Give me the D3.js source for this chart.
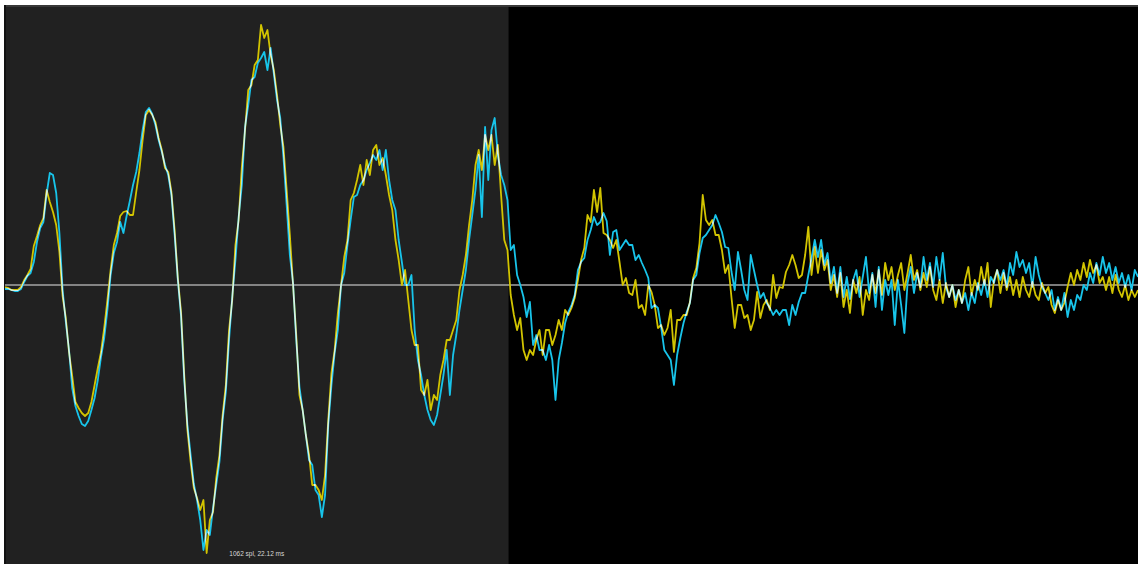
<!DOCTYPE html>
<html><head><meta charset="utf-8">
<script src="https://cdn.jsdelivr.net/npm/d3@7"></script>
<style>html,body{margin:0;padding:0;background:#fff;overflow:hidden}</style>
</head><body><svg id="chart" width="1144" height="565"></svg>
<script>
const sampleRate = 48000;
const totalSamples = 1062;
const sampleStep = 3;
const selectionEnd = 472;
const infoLabel = "1062 spl, 22.12 ms";

const cyanValues = [
-4,-4,-5,-6,-6,-4,3,9,12,23,
43,57,63,91,112,110,92,52,-5,-37,
-65,-103,-121,-131,-139,-141,-136,-125,-113,-95,
-72,-53,-25,10,32,43,63,52,69,84,
100,113,132,155,173,177,171,160,145,133,
120,110,90,50,5,-31,-95,-140,-170,-199,
-215,-235,-265,-245,-250,-223,-200,-177,-135,-107,
-55,-12,25,68,100,158,180,205,208,222,
227,233,215,237,211,185,167,128,80,30,
2,-55,-102,-125,-150,-175,-180,-205,-210,-232,
-210,-140,-100,-68,-45,0,12,40,65,88,
90,100,105,115,122,130,125,135,115,135,
105,85,75,45,23,0,0,10,-45,-75,
-90,-110,-125,-135,-140,-130,-110,-90,-65,-110,
-70,-50,-25,-5,15,45,70,95,130,68,
158,105,155,167,130,110,100,85,35,40,
10,0,-12,-32,-17,-60,-50,-65,-65,-75,
-60,-75,-115,-75,-58,-38,-27,-20,-10,15,
23,27,45,55,68,60,63,72,64,30,
53,55,35,40,45,40,40,25,30,22,
15,7,-23,-20,-23,-42,-65,-70,-75,-100,
-70,-53,-38,-27,-18,5,10,32,47,50,
55,60,70,62,53,38,37,13,-5,33,
15,-5,-15,30,15,0,-13,-8,-18,-23,
-30,-25,-30,-25,-25,-40,-20,-30,-17,-8,
-8,10,27,45,28,45,20,32,2,18,
-8,18,-12,8,-14,5,15,-12,8,28,
-8,12,-22,18,-25,5,-10,5,-40,5,
-20,-48,2,18,-8,12,-2,28,5,22,
-2,28,5,32,-2,-12,0,-15,-5,-18,
-8,-25,-8,-18,2,-10,5,-12,8,2,
15,5,15,-2,22,10,33,18,25,12,
22,-2,28,10,-2,-8,-15,-5,-25,-12,
-25,-8,-32,-15,-25,-10,-15,0,-5,12,
2,22,10,28,12,22,5,18,2,12,
-2,10,-5,15,8
];

const yellowValues = [
-2,-3,-5,-5,-5,-2,5,10,16,39,
49,60,67,95,83,73,60,33,-11,-33,
-67,-91,-117,-123,-128,-131,-128,-117,-100,-83,
-67,-43,-15,15,40,52,69,73,74,70,
70,93,115,145,170,175,170,163,147,135,
117,113,93,55,7,-27,-90,-145,-177,-203,
-213,-225,-215,-268,-235,-227,-193,-170,-130,-100,
-45,-15,40,65,118,155,195,200,220,225,
260,247,255,230,215,190,160,138,95,50,
0,-50,-110,-125,-150,-170,-200,-200,-205,-215,
-190,-135,-88,-65,-28,0,28,45,85,92,
105,120,100,125,110,135,140,120,127,110,
90,75,45,25,0,15,-15,-45,-60,-60,
-105,-110,-95,-125,-110,-115,-90,-75,-55,-55,
-45,-35,-5,10,30,60,85,120,135,115,
150,135,150,120,140,90,45,35,-10,-30,
-45,-33,-65,-75,-65,-70,-55,-45,-70,-45,
-45,-60,-50,-35,-45,-25,-30,-23,-13,5,
25,37,70,63,95,73,97,52,50,45,
37,45,23,0,7,-8,-10,5,-23,-20,
-30,0,-7,-20,-43,-40,-50,-43,-25,-67,
-35,-35,-30,-30,-17,7,17,42,90,65,
60,65,50,50,35,12,20,-13,-43,-20,
-20,-33,-30,-45,-35,-7,-33,-20,-15,-25,
10,-13,-2,-3,13,20,30,20,7,10,
30,58,10,38,12,35,15,25,-5,10,
-12,12,-22,-5,-28,5,-8,8,-30,-5,
-15,10,-8,15,-10,22,5,18,-5,10,
22,-5,12,30,5,15,-5,12,-2,18,
-5,-15,5,-18,2,-12,0,-22,-5,-18,
5,18,-10,5,-5,18,0,22,-22,5,
15,-8,12,-5,8,-10,5,-12,8,-5,
-12,3,-10,-15,2,-8,-2,-20,-28,-15,
-25,-18,-2,12,0,15,5,22,8,25,
12,20,2,8,-5,8,-8,10,-5,-12,
0,-15,-5,-12,-5
];

const svg = d3.select("#chart");
const plot = {left: 5, right: 1138, top: 5, bottom: 564};
const x = d3.scaleLinear().domain([0, totalSamples]).range([plot.left, plot.right]);
const y = d3.scaleLinear().domain([-280, 280]).range([565, 5]);

svg.append("defs").append("clipPath").attr("id", "clip")
  .append("rect").attr("x", plot.left).attr("y", plot.top)
  .attr("width", plot.right - plot.left).attr("height", plot.bottom - plot.top);

// background panels
svg.append("rect").attr("x", x(0)).attr("y", plot.top)
  .attr("width", x(totalSamples) - x(0)).attr("height", plot.bottom - plot.top)
  .attr("fill", "#000");
svg.append("rect").attr("x", x(0)).attr("y", plot.top)
  .attr("width", x(selectionEnd) - x(0)).attr("height", plot.bottom - plot.top)
  .attr("fill", "#212121");
// top border
svg.append("rect").attr("x", x(0)).attr("y", plot.top)
  .attr("width", x(totalSamples) - x(0)).attr("height", 2)
  .attr("fill", "#383838");
// left border
svg.append("rect").attr("x", plot.left - 1).attr("y", plot.top)
  .attr("width", 2).attr("height", plot.bottom - plot.top)
  .attr("fill", "#121212");

// zero line
svg.append("line").attr("x1", x(0)).attr("x2", x(totalSamples))
  .attr("y1", y(0)).attr("y2", y(0))
  .attr("stroke", "#a6a6a6").attr("stroke-width", 1.6);

const line = d3.line()
  .x((d, i) => x(i * sampleStep))
  .y(d => y(d));

const g = svg.append("g").attr("clip-path", "url(#clip)").style("isolation", "isolate");
g.append("path").datum(cyanValues).attr("d", line)
  .attr("fill", "none").attr("stroke", "#18c4ea").attr("stroke-width", 1.8)
  .attr("stroke-linejoin", "round");
g.append("path").datum(yellowValues).attr("d", line)
  .attr("fill", "none").attr("stroke", "#d2c400").attr("stroke-width", 1.8)
  .attr("stroke-linejoin", "round").style("mix-blend-mode", "screen");

svg.append("text").attr("x", x(selectionEnd / 2)).attr("y", 556)
  .attr("text-anchor", "middle")
  .attr("font-family", "'Liberation Sans', Arial, sans-serif")
  .attr("font-size", "6.5px").attr("fill", "#d8d8d8")
  .text(infoLabel);
</script>
</body></html>
